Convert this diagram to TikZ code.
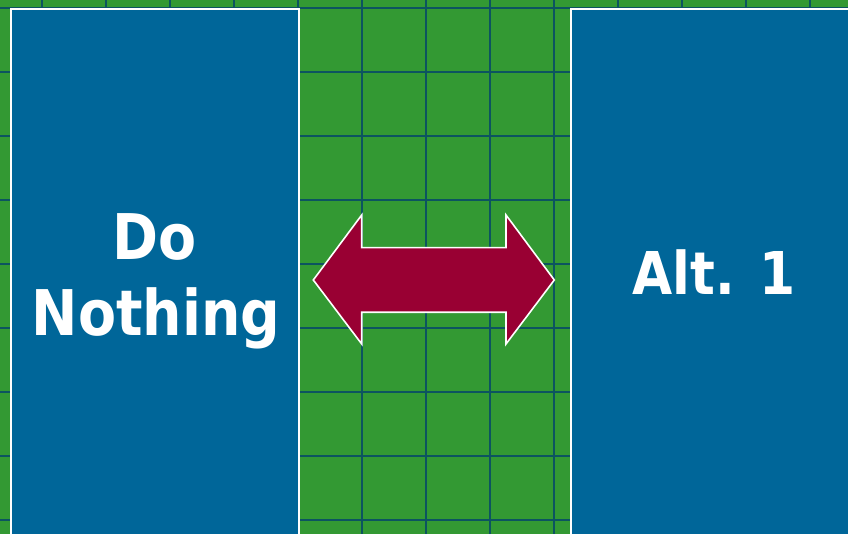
\documentclass[tikz,border=0pt]{standalone}
\usepackage{fontspec}
\newfontfamily\capfont[FakeStretch=0.88]{DejaVu Sans}
\definecolor{altGreen}{RGB}{51,153,51}
\definecolor{altBlue}{RGB}{0,102,153}
\definecolor{altRed}{RGB}{153,0,51}
\definecolor{altGrid}{RGB}{12,84,96}
\usetikzlibrary{positioning}

\begin{document}
\begin{tikzpicture}[x=1pt, y=-1pt,
  gridline/.style={altGrid, line width=1.8pt},
  panel/.style={draw=white, line width=2pt, fill=altBlue, anchor=north west,
                minimum width=288pt, minimum height=532pt, inner sep=0pt},
  caption/.style={text=white, align=center, inner sep=0pt,
                  font=\capfont\bfseries\fontsize{63}{76}\selectfont},
  swap/.style={draw=white, line width=1.6pt, fill=altRed, line join=miter}
]
  \useasboundingbox (0,0) rectangle (848,534);
  \clip (0,0) rectangle (848,534);
  \fill[altGreen] (0,0) rectangle (848,534);

  % grid behind the panels
  \foreach \gx in {42,106,...,810}
    \draw[gridline] (\gx,0) -- (\gx,534);
  \foreach \gy in {8,72,...,520}
    \draw[gridline] (0,\gy) -- (848,\gy);

  \node[panel] (base) at (10,8)  {};
  \node[panel] (alt)  at (570,8) {};

  \node[caption, anchor=base] (baseText) at (155,259.5) {Do};
  \node[caption, anchor=base] (baseText2) at (156,335) {Nothing};
  \node[caption, anchor=base, font=\capfont\bfseries\fontsize{59}{70}\selectfont]
       (altText) at (714,295) {Alt. 1};

  % two-headed arrow between the panels
  \draw[swap] (313.3,280) -- (361.7,215) -- (361.7,247.7) -- (506,247.7)
    -- (506,215) -- (554.3,280) -- (506,344) -- (506,312.3)
    -- (361.7,312.3) -- (361.7,344) -- cycle;
\end{tikzpicture}
\end{document}
